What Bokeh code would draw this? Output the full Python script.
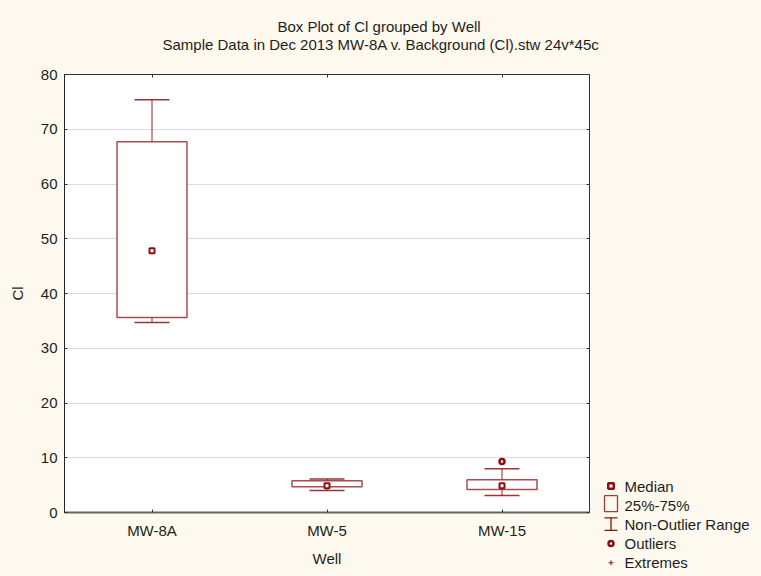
from bokeh.plotting import figure
from bokeh.layouts import row
from bokeh.models import (Range1d, FactorRange, FixedTicker, Title, LinearAxis, CategoricalAxis)
from bokeh.core.properties import value
from bokeh.embed import file_html
from bokeh.resources import INLINE

# ---------------- data ----------------
wells = ["MW-8A", "MW-5", "MW-15"]
q1 = [35.6, 4.7, 4.2]
q3 = [67.7, 5.8, 6.0]
medians = [47.8, 4.9, 4.9]
whisker_low = [34.7, 4.0, 3.1]
whisker_high = [75.4, 6.1, 8.0]
outlier_wells = ["MW-15"]
outlier_values = [9.3]
extreme_wells = []
extreme_values = []
y_ticks = [0, 10, 20, 30, 40, 50, 60, 70, 80]

title_text = "Box Plot of Cl grouped by  Well"
subtitle_text = "Sample Data in Dec 2013 MW-8A v. Background (Cl).stw 24v*45c"
x_label = "Well"
y_label = "Cl"
legend_labels = ["Median", "25%-75%", "Non-Outlier Range", "Outliers", "Extremes"]

# ---------------- style ----------------
DARK = "#8b1010"
FONT = "Liberation Sans"
FS = "15px"
TXT = "#1e1e1e"
CREAM = "#fdf9ee"
FRAME_W, FRAME_H = 525, 438
BL, BR, BT, BB = 64, 13, 74, 64
MAIN_W = BL + FRAME_W + BR
TOTAL_W, TOTAL_H = 761, 576

p = figure(x_range=FactorRange(*wells), y_range=Range1d(0, 80), title=None,
           frame_width=FRAME_W, frame_height=FRAME_H,
           min_border_left=BL, min_border_right=BR, min_border_top=BT, min_border_bottom=BB,
           output_backend="svg", toolbar_location=None,
           background_fill_color="white", border_fill_color=CREAM,
           outline_line_color="#333333", outline_line_width=1)

p.xgrid.visible = False
p.ygrid.grid_line_color = "#dcdcdc"
p.yaxis.ticker = FixedTicker(ticks=y_ticks)
p.ygrid.ticker = FixedTicker(ticks=y_ticks)

for ax in (p.xaxis[0], p.yaxis[0]):
    ax.major_tick_in = 3
    ax.major_tick_out = 0
    ax.minor_tick_line_color = None
    ax.major_tick_line_color = "#333333"
    ax.major_label_text_font = FONT
    ax.major_label_text_font_size = FS
    ax.major_label_text_color = TXT
    ax.axis_label_text_font = FONT
    ax.axis_label_text_font_size = FS
    ax.axis_label_text_font_style = "normal"
    ax.axis_label_text_color = TXT

p.yaxis.axis_label = y_label
p.yaxis.axis_line_color = "#222222"
p.yaxis.major_label_standoff = 7
p.yaxis.axis_label_standoff = 12
p.xaxis.axis_label = x_label
p.xaxis.axis_line_color = "#666666"
p.xaxis.axis_line_width = 2
p.xaxis.major_label_standoff = 9
p.xaxis.axis_label_standoff = 8

# mirrored tick marks (top and right); their empty labels are painted in the background colour
top_ax = CategoricalAxis(major_tick_in=3, major_tick_out=0, axis_line_color=None,
                         major_tick_line_color="#333333", minor_tick_line_color=None,
                         major_label_overrides={w: "" for w in wells},
                         major_label_text_font_size="1px", major_label_text_color=CREAM,
                         major_label_standoff=18)
p.add_layout(top_ax, "above")
right_ax = LinearAxis(ticker=FixedTicker(ticks=y_ticks), major_tick_in=3, major_tick_out=0,
                      axis_line_color=None, major_tick_line_color="#333333",
                      minor_tick_line_color=None,
                      major_label_overrides={float(t): "" for t in y_ticks},
                      major_label_text_font_size="1px", major_label_text_color=CREAM,
                      major_label_standoff=0)
p.add_layout(right_ax, "right")

# titles (subtitle first: nearest the frame)
p.add_layout(Title(text=subtitle_text, align="left", offset=98, standoff=-1,
                   text_font=FONT, text_font_size=FS, text_font_style="normal",
                   text_color=TXT), "above")
p.add_layout(Title(text=title_text, align="left", offset=213, standoff=0,
                   text_font=FONT, text_font_size=FS, text_font_style="normal",
                   text_color=TXT), "above")

# ---------------- boxes ----------------
p.segment(x0=wells, y0=q3, x1=wells, y1=whisker_high, line_color=DARK, line_width=1.5, line_alpha=0.6)
p.segment(x0=wells, y0=q1, x1=wells, y1=whisker_low, line_color=DARK, line_width=1.5, line_alpha=0.6)
p.vbar(x=wells, bottom=q1, top=q3, width=0.4, fill_color="white",
       line_color=DARK, line_width=1.5, line_alpha=0.75)
p.scatter(x=wells, y=whisker_high, marker="dash", size=35, line_color=DARK, line_width=1.5, line_alpha=0.85)
p.scatter(x=wells, y=whisker_low, marker="dash", size=35, line_color=DARK, line_width=1.5, line_alpha=0.85)
p.scatter(x=wells, y=medians, marker="square", size=5, line_width=2,
          line_color=DARK, fill_color="white")
p.scatter(x=outlier_wells, y=outlier_values, marker="circle", size=5, line_width=2.5,
          line_color=DARK, fill_color="white")
p.scatter(x=extreme_wells, y=extreme_values, marker="cross", size=6, line_width=1,
          line_color=DARK)

# ---------------- legend panel (pixel coordinates of the page) ----------------
LEG_W = TOTAL_W - MAIN_W
leg = figure(x_range=Range1d(MAIN_W, TOTAL_W), y_range=Range1d(TOTAL_H, BT),
             frame_width=LEG_W, frame_height=TOTAL_H - BT,
             min_border_left=0, min_border_right=0, min_border_top=BT, min_border_bottom=0,
             x_axis_location=None, y_axis_location=None,
             output_backend="svg", toolbar_location=None,
             background_fill_color=CREAM, border_fill_color=CREAM, outline_line_color=None)
leg.grid.visible = False

GX = 610.5          # glyph centre x
LX = 624            # label left x
ROW0, ROW_H = 485.5, 19.2
rows = [ROW0 + i * ROW_H for i in range(len(legend_labels))]

leg.scatter(x=[GX], y=[rows[0]], marker="square", size=5.5, line_width=2.5,
            line_color=DARK, fill_color="white")
leg.rect(x=[GX], y=[rows[1] - 1.5], width=13, height=16, fill_color=None,
         line_color=DARK, line_width=1.3, line_alpha=0.8)
leg.segment(x0=[GX], y0=[rows[2] - 6.5], x1=[GX], y1=[rows[2] + 6], line_color=DARK, line_width=1.3)
leg.segment(x0=[GX - 6.5, GX - 6.5], y0=[rows[2] - 6.5, rows[2] + 6],
            x1=[GX + 6.5, GX + 6.5], y1=[rows[2] - 6.5, rows[2] + 6], line_color=DARK, line_width=1.3)
leg.scatter(x=[GX], y=[rows[3]], marker="circle", size=5, line_width=2.5,
            line_color=DARK, fill_color="white")
leg.scatter(x=[GX], y=[rows[4]], marker="cross", size=5, line_width=1, line_color=DARK)
leg.text(x=[LX] * len(legend_labels), y=rows, text=legend_labels, text_baseline="middle",
         text_align="left", text_font=value(FONT), text_font_size=value(FS), text_color=TXT)

layout = row(p, leg, spacing=0)

html = file_html(layout, INLINE)
html = html.replace("</head>", "<style>html,body{background:%s;}</style></head>" % CREAM, 1)
open("out.html", "w").write(html)
